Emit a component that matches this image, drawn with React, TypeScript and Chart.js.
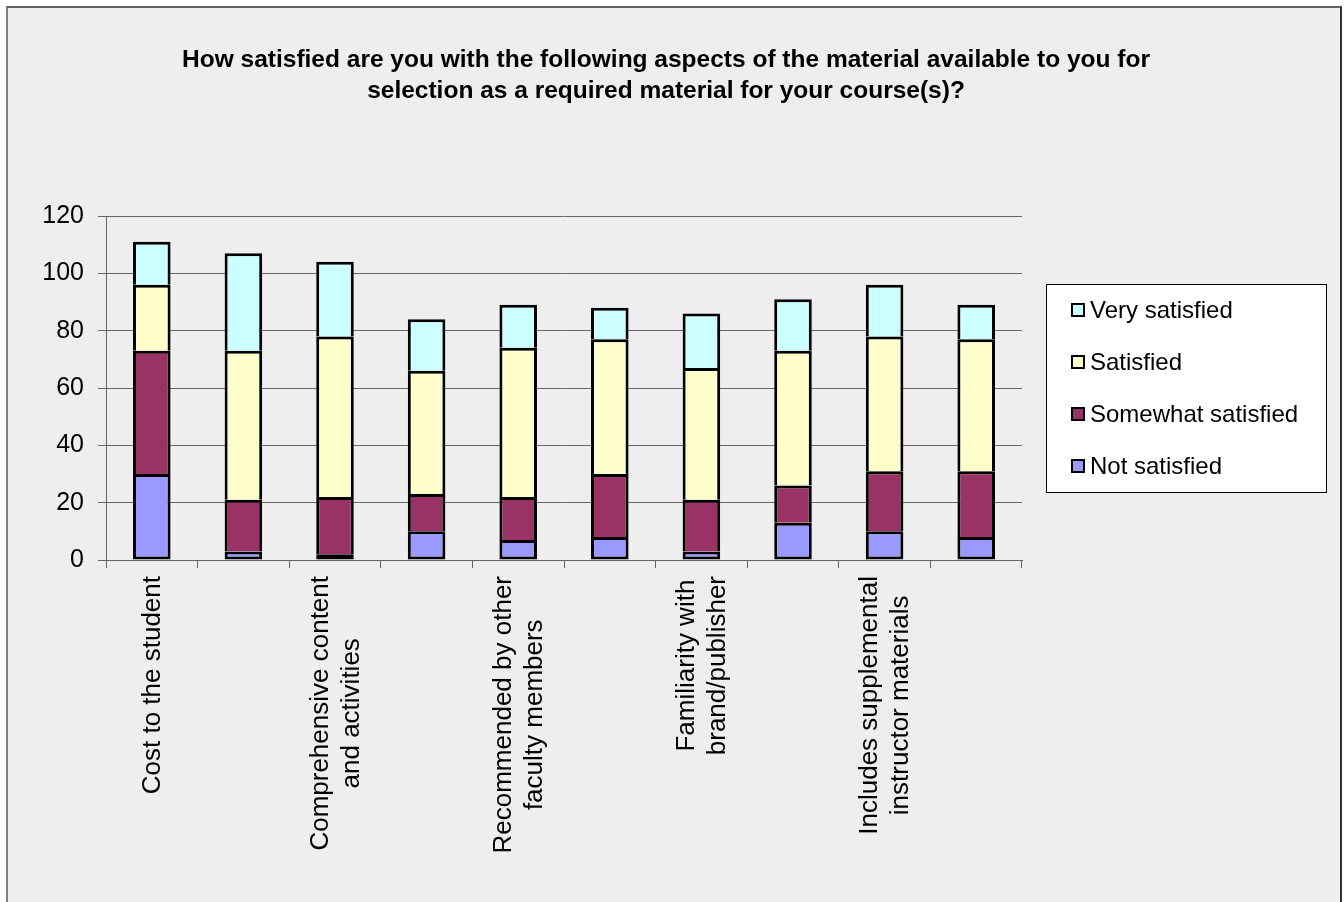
import React, { useEffect, useRef } from "react";
import { Chart, registerables } from "chart.js";

Chart.register(...registerables);

const titleLines = [
  "How satisfied are you with the following aspects of the material available to you for",
  "selection as a required material for your course(s)?",
];

// Only every other category label is shown in the original chart; hidden ones are left blank.
const categories: string[][] = [
  ["Cost to the student"],
  [""],
  ["Comprehensive content", "and activities"],
  [""],
  ["Recommended by other", "faculty members"],
  [""],
  ["Familiarity with", "brand/publisher"],
  [""],
  ["Includes supplemental", "instructor materials"],
  [""],
];

const seriesNames = ["Not satisfied", "Somewhat satisfied", "Satisfied", "Very satisfied"];
const notSatisfied = [30, 3, 2, 10, 7, 8, 3, 13, 10, 8];
const somewhatSatisfied = [43, 18, 20, 13, 15, 22, 18, 13, 21, 23];
const satisfied = [23, 52, 56, 43, 52, 47, 46, 47, 47, 46];
const verySatisfied = [15, 34, 26, 18, 15, 11, 19, 18, 18, 12];
const seriesColors = ["#9999FF", "#993366", "#FFFFCC", "#CCFFFF"];

const yMax = 120;
const yStep = 20;

const FONT = "'Liberation Sans', Arial, sans-serif";

export default function App() {
  const ref = useRef<HTMLCanvasElement | null>(null);

  useEffect(() => {
    const canvas = ref.current;
    if (!canvas) return;
    const values = [notSatisfied, somewhatSatisfied, satisfied, verySatisfied];

    const decor = {
      id: "decor",
      afterDraw(chart: any) {
        const ctx = chart.ctx as CanvasRenderingContext2D;
        // Title
        ctx.save();
        ctx.fillStyle = "#000";
        ctx.font = `bold 24.5px ${FONT}`;
        ctx.textAlign = "center";
        ctx.textBaseline = "alphabetic";
        titleLines.forEach((t, i) => ctx.fillText(t, 658, 59 + i * 31));
        ctx.restore();

        // X category labels (rotated, lines centred around the tick)
        const xs = chart.scales.x;
        const bottom = chart.chartArea.bottom;
        ctx.save();
        ctx.font = `26px ${FONT}`;
        ctx.fillStyle = "#000";
        ctx.textAlign = "center";
        ctx.textBaseline = "middle";
        const lh = 31;
        categories.forEach((lines, i) => {
          if (!lines.join("")) return;
          const w = Math.max(...lines.map((l) => ctx.measureText(l).width));
          const x = xs.getPixelForValue(i);
          const cy = bottom + 16 + w / 2;
          ctx.save();
          ctx.translate(x, cy);
          ctx.rotate(-Math.PI / 2);
          lines.forEach((l, j) => ctx.fillText(l, 0, (j - (lines.length - 1) / 2) * lh + 1));
          ctx.restore();
        });
        ctx.restore();

        // Legend box
        const lx = 1038, ly = 276, lw = 281, lhgt = 209;
        ctx.save();
        ctx.fillStyle = "#FFFFFF";
        ctx.fillRect(lx, ly, lw, lhgt);
        ctx.strokeStyle = "#000";
        ctx.lineWidth = 1;
        ctx.strokeRect(lx + 0.5, ly + 0.5, lw - 1, lhgt - 1);
        ctx.font = `24px ${FONT}`;
        ctx.textAlign = "left";
        ctx.textBaseline = "middle";
        const ds = chart.data.datasets;
        for (let k = 0; k < ds.length; k++) {
          const idx = ds.length - 1 - k;
          const cyy = 302 + k * 52;
          ctx.fillStyle = ds[idx].backgroundColor;
          ctx.fillRect(1063, cyy - 7, 14, 14);
          ctx.strokeStyle = "#000";
          ctx.lineWidth = 2;
          ctx.strokeRect(1064, cyy - 6, 12, 12);
          ctx.fillStyle = "#000";
          ctx.fillText(ds[idx].label, 1082, cyy + 1);
        }
        ctx.restore();
      },
    };

    const chart = new Chart(canvas, {
      type: "bar",
      data: {
        labels: categories.map((c) => c.join(" ")),
        datasets: values.map((v, i) => ({
          label: seriesNames[i],
          data: v,
          backgroundColor: seriesColors[i],
          borderColor: "#000000",
          borderWidth: 3,
          borderSkipped: i === 0 ? false : "start",
          barPercentage: 0.41,
          categoryPercentage: 1,
        })),
      },
      options: {
        responsive: false,
        animation: false,
        devicePixelRatio: 1,
        layout: { padding: { top: 208, right: 318, left: 0, bottom: 0 } },
        plugins: {
          legend: { display: false },
          title: { display: false },
          tooltip: { enabled: false },
        },
        scales: {
          x: {
            stacked: true,
            offset: true,
            grid: {
              offset: true,
              drawOnChartArea: false,
              drawTicks: true,
              tickLength: 8,
              color: "#666666",
            },
            border: { color: "#666666", width: 1 },
            ticks: { display: false },
            afterFit: (s: any) => {
              s.height = 340;
            },
          },
          y: {
            stacked: true,
            min: 0,
            max: yMax,
            ticks: {
              stepSize: yStep,
              color: "#000",
              font: { family: FONT, size: 25 },
              padding: 14,
            },
            grid: { color: "#666666", tickLength: 8, lineWidth: 1 },
            border: { color: "#666666", width: 1 },
            afterFit: (s: any) => {
              s.width = 98;
            },
          },
        },
      },
      plugins: [decor],
    });
    return () => chart.destroy();
  }, []);

  return (
    <div
      style={{
        position: "fixed",
        left: 6,
        top: 6,
        width: 1336,
        height: 900,
        boxSizing: "border-box",
        borderLeft: "2px solid #808080",
        borderTop: "2px solid #606060",
        borderRight: "2px solid #303030",
        background: "#EEEEEE",
        overflow: "hidden",
      }}
    >
      <canvas ref={ref} width={1332} height={892} style={{ display: "block" }} />
    </div>
  );
}
